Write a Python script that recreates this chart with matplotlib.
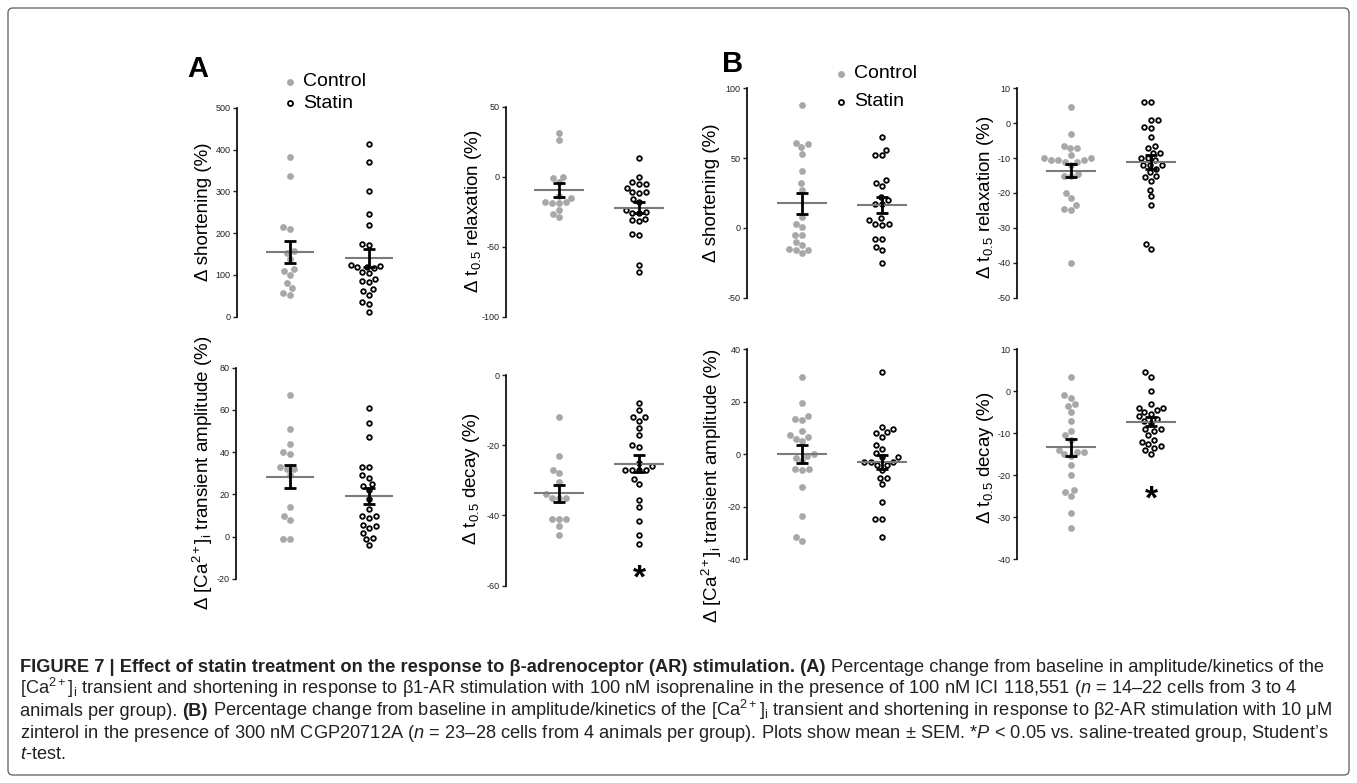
import numpy as np
import matplotlib
matplotlib.use('Agg')
import matplotlib.pyplot as plt
from matplotlib import font_manager
from matplotlib.patches import FancyBboxPatch
from matplotlib.lines import Line2D

W, H = 1357, 783

# % change from baseline (Control / Statin)
# panel A, beta1-AR
a_short_ctrl = [383, 336, 215, 210, 156, 152, 137, 113, 110, 100, 80, 69, 57, 53]
a_short_stat = [413, 369, 300, 246, 220, 174, 172, 124, 122, 120, 118, 116, 106, 104,
                90, 86, 82, 66, 62, 52, 34, 30, 12]
a_relax_ctrl = [31, 26, 0, -1, -4, -14, -15, -18, -18, -19, -19, -24, -27, -29]
a_relax_stat = [13, 0, -4, -5, -5, -8, -11, -11, -12, -16, -18, -24, -25, -26, -26,
                -30, -31, -32, -41, -42, -63, -68]
a_ca_ctrl = [67, 51, 44, 40, 39, 33, 32, 32, 29, 14, 10, 8, -1, -1]
a_ca_stat = [61, 54, 47, 33, 33, 29, 28, 25, 24, 22, 18, 13, 10, 10, 9, 5.5, 5, 4, 2,
             -0.5, -1, -4]
a_decay_ctrl = [-12, -23, -27, -28, -30.5, -34, -35, -35, -35, -41, -41, -41, -43, -45.5]
a_decay_stat = [-8, -10, -12, -12, -13, -15, -17, -20, -20.5, -25, -26, -27, -27, -27,
                -27, -29.5, -31, -35.5, -37.5, -41.5, -45.5, -48]
# panel B, beta2-AR
b_short_ctrl = [88, 61, 60, 58, 53, 41, 32, 27, 8, 3, 1, -5, -5, -10, -12, -15, -16,
                -16, -18]
b_short_stat = [65, 56, 52, 52, 34, 32, 30, 22, 20, 17, 17, 7, 5.5, 3, 3, 2, -8, -8,
                -14, -16, -25]
b_relax_ctrl = [4.5, -3, -6.5, -7, -7, -9, -10, -10, -10.5, -10.5, -11, -11, -10.5, -12,
                -14.5, -15, -15, -20, -21.5, -23.5, -24.5, -25, -40]
b_relax_stat = [6, 6, 1, 1, -1, -1.5, -4, -6.5, -7, -8.5, -8.5, -10, -10, -10.5, -12,
                -12, -12, -13, -14, -15, -15.5, -16.5, -19, -21, -23.5, -34.5, -36]
b_ca_ctrl = [29.5, 19.5, 14.5, 13.5, 13, 9, 7.5, 6.5, 6, 5, 0, -0.5, -1.5, -2.5, -5.5,
             -5.5, -6, -12.5, -23.5, -31.5, -33]
b_ca_stat = [31.5, 10.5, 9.5, 8.5, 8, 6.5, 3.5, 2, 0.5, -1, -1, -3, -3, -3, -4, -4, -6,
             -9, -9, -11.5, -18, -24.5, -24.5, -31.5]
b_decay_ctrl = [3.5, -1, -1.5, -3, -3.5, -5, -7, -9.5, -10.5, -11.5, -14, -14.5, -14.5,
                -15, -15.5, -17.5, -20, -23.5, -24, -25, -29, -32.5]
b_decay_stat = [4.5, 3.5, 0, -3, -4, -4, -4.5, -5, -5.5, -6, -6.5, -7, -7.5, -9, -9,
                -9.5, -10.5, -11.5, -12, -12.5, -13, -13.5, -14, -15]

lab_short = u'\u0394 shortening (%)'
lab_relax = u'\u0394 t$_{0.5}$ relaxation (%)'
lab_ca = u'\u0394 [Ca$^{2+}$]$_\\mathrm{i}$ transient amplitude (%)'
lab_decay = u'\u0394 t$_{0.5}$ decay (%)'

names = {f.name for f in font_manager.fontManager.ttflist}
sans = 'Liberation Sans' if 'Liberation Sans' in names else 'DejaVu Sans'

plt.rcParams['font.family'] = [sans, 'DejaVu Sans']
plt.rcParams['mathtext.fontset'] = 'custom'
plt.rcParams['mathtext.rm'] = sans
plt.rcParams['mathtext.it'] = sans + ':italic'
plt.rcParams['mathtext.bf'] = sans + ':bold'
plt.rcParams['axes.unicode_minus'] = False

fig = plt.figure(figsize=(W/100., H/100.), dpi=100)


def swarm(vals, ypp, d=7.0):
    # simple beeswarm in pixel units
    y = np.asarray(vals, float)*ypp
    xs = np.zeros(len(y))
    placed = []
    for i in np.argsort(y):
        cands = [0.0]
        for xj, yj in placed:
            dy = y[i]-yj
            if abs(dy) < d:
                dx = np.sqrt(d*d-dy*dy)
                cands += [xj-dx, xj+dx]
        cands.sort(key=abs)
        for c in cands:
            if all((c-xj)**2+(y[i]-yj)**2 >= d*d-1e-6 for xj, yj in placed):
                xs[i] = c
                break
        placed.append((xs[i], y[i]))
    return xs


def panel(spec, ctrl, stat, label, labpos, ticks, star=None):
    sx, top, bot, cx, stx = spec
    ppu = float(stx-cx)
    aw = 180.
    ax = fig.add_axes([sx/W, 1-bot/H, aw/W, (bot-top)/H])
    ax.set_ylim(ticks[0], ticks[-1])
    x0 = 1-(cx-sx)/ppu
    ax.set_xlim(x0, x0+aw/ppu)
    ypp = (bot-top)/float(ticks[-1]-ticks[0])
    for pos, vals in ((1, ctrl), (2, stat)):
        off = swarm(vals, ypp)/ppu
        if pos == 1:
            ax.scatter(pos+off, vals, s=24, color='#a8a8a8', lw=0, zorder=2, clip_on=False)
        else:
            ax.scatter(pos+off, vals, s=11, facecolor='white', edgecolor='black',
                       lw=1.3, zorder=2, clip_on=False)
        v = np.asarray(vals, float)
        m = v.mean()
        se = v.std(ddof=1)/np.sqrt(len(v))
        ax.hlines(m, pos-0.31, pos+0.31, color='#7a7a7a', lw=1.5, zorder=3)
        ax.errorbar(pos, m, yerr=se, fmt='none', ecolor='black', elinewidth=2,
                    capsize=4.3, capthick=2, zorder=4)
    if star is not None:
        ax.text(2, star, '*', ha='center', va='center', fontsize=24, fontweight='bold')
    ax.set_yticks(ticks)
    ax.set_xticks([])
    for s in ('top', 'right', 'bottom'):
        ax.spines[s].set_visible(False)
    ax.spines['left'].set_linewidth(1.2)
    ax.tick_params(axis='y', direction='out', length=3, width=1, labelsize=6.5,
                   pad=1.5, colors='#222222')
    ax.patch.set_alpha(0)
    fig.text(labpos[0]/W, 1-labpos[1]/H, label, rotation=90, ha='center',
             va='center', fontsize=13.5)
    return ax


# (spine x, top px, bottom px, control x, statin x)
panel((237, 107.7, 316.7, 290, 369), a_short_ctrl, a_short_stat, lab_short,
      (203, 212), list(range(0, 501, 100)))
panel((506, 106.7, 316.7, 559, 639), a_relax_ctrl, a_relax_stat, lab_relax,
      (474, 211), [-100, -50, 0, 50])
panel((236, 367.7, 579, 290, 369), a_ca_ctrl, a_ca_stat, lab_ca,
      (203, 473), list(range(-20, 81, 20)))
panel((506, 375, 585.7, 559, 639), a_decay_ctrl, a_decay_stat, lab_decay,
      (472, 479), list(range(-60, 1, 20)), star=-58)
panel((747, 88.3, 297.7, 802, 882), b_short_ctrl, b_short_stat, lab_short,
      (712, 193), [-50, 0, 50, 100])
panel((1017, 88.3, 297.7, 1071, 1151), b_relax_ctrl, b_relax_stat, lab_relax,
      (985, 197), list(range(-50, 11, 10)))
panel((747, 349.3, 559.3, 802, 882), b_ca_ctrl, b_ca_stat, lab_ca,
      (712, 486), list(range(-40, 41, 20)))
panel((1017, 349.3, 559.3, 1071, 1151), b_decay_ctrl, b_decay_stat, lab_decay,
      (985, 458), list(range(-40, 11, 10)), star=-26)

# panel letters and legends
fig.text(187/W, 1-77/H, 'A', fontsize=21, fontweight='bold', va='baseline')
fig.text(722/W, 1-72/H, 'B', fontsize=21, fontweight='bold', va='baseline')
for dx, cy, sy in ((290, 81.7, 103.3), (841, 74, 101.7)):
    fig.add_artist(Line2D([dx/W], [1-cy/H], marker='o', ms=5, color='#a8a8a8',
                          mec='none', transform=fig.transFigure))
    fig.add_artist(Line2D([dx/W], [1-sy/H], marker='o', ms=3.6, mfc='white',
                          mec='black', mew=1.3, transform=fig.transFigure))
    fig.text((dx+13)/W, 1-cy/H, 'Control', fontsize=14, va='center')
    fig.text((dx+13)/W, 1-sy/H, 'Statin', fontsize=14, va='center')

# border
fig.patches.append(FancyBboxPatch((0.08, 0.08), 13.41, 7.67,
                                  boxstyle='round,pad=0,rounding_size=0.05',
                                  transform=fig.dpi_scale_trans, fc='none',
                                  ec='#6a6a6a', lw=1))

# caption
cap_lines = [
    [(u'FIGURE 7 | Effect of statin treatment on the response to \u03b2-adrenoceptor (AR) stimulation. (A)', 'bold'),
     ('Percentage change from baseline in amplitude/kinetics of the', 'normal')],
    [(u'[Ca$^{2+}$]$_\\mathrm{i}$ transient and shortening in response to \u03b21-AR stimulation with 100 nM isoprenaline in the presence of 100 nM ICI 118,551 ($n$ = 14\u201322 cells from 3 to 4', 'normal')],
    [('animals per group).', 'normal'), ('(B)', 'bold'),
     (u'Percentage change from baseline in amplitude/kinetics of the [Ca$^{2+}$]$_\\mathrm{i}$ transient and shortening in response to \u03b22-AR stimulation with 10 \u03bcM', 'normal')],
    [(u'zinterol in the presence of 300 nM CGP20712A ($n$ = 23\u201328 cells from 4 animals per group). Plots show mean \u00b1 SEM. *$P$ < 0.05 vs. saline-treated group, Student\u2019s', 'normal')],
    [('$t$-test.', 'normal')],
]
cap_base = [672, 694, 716, 738, 759]
cap_x0, cap_x1 = 20, 1318
fs0 = 11.0

arts = []
for segs, yb in zip(cap_lines, cap_base):
    row = [fig.text(cap_x0/W, 1-yb/H, s, fontweight=w, fontsize=fs0, va='baseline',
                    ha='left', color='#222222')
           for s, w in segs]
    arts.append(row)

fig.canvas.draw()
r = fig.canvas.get_renderer()
sp1 = fig.text(0, 0, 'n n', fontsize=fs0)
sp2 = fig.text(0, 0, 'nn', fontsize=fs0)
gap = sp1.get_window_extent(r).width-sp2.get_window_extent(r).width
sp1.remove()
sp2.remove()
w1 = sum(t.get_window_extent(r).width for t in arts[0])+gap*(len(arts[0])-1)
fs = fs0*(cap_x1-cap_x0)/w1
gap *= fs/fs0
for row in arts:
    for t in row:
        t.set_fontsize(fs)
fig.canvas.draw()
r = fig.canvas.get_renderer()
for row in arts:
    x = cap_x0
    for t in row:
        t.set_x(x/W)
        x += t.get_window_extent(r).width+gap

fig.savefig('out.png', dpi=100)
